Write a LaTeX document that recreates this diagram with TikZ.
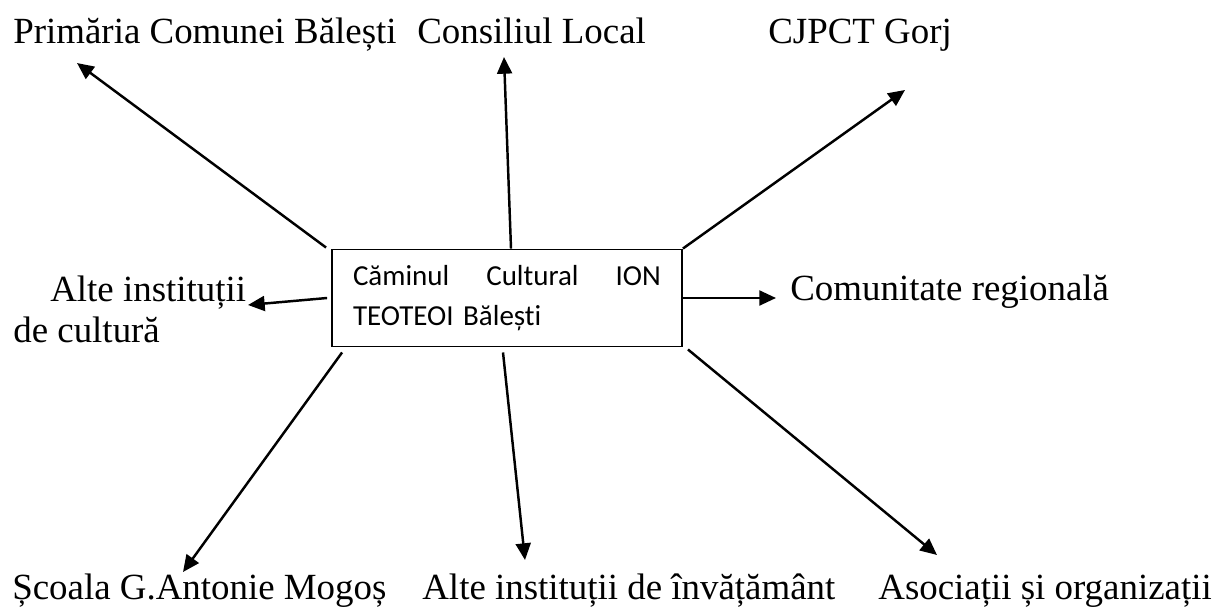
\documentclass[tikz,border=0pt]{standalone}
\usepackage{fontspec}
\setmainfont{Liberation Serif}
\newfontfamily\boxfont[Ligatures=NoCommon]{Carlito}
\usetikzlibrary{arrows.meta}
\tikzset{
  lbl/.style={anchor=base west,inner sep=0pt,font=\fontsize{21}{22.8}\selectfont},
  centre/.style={draw,line width=1.1pt,minimum width=7cm,minimum height=1.94cm,
    text width=6.16cm,align=left,inner sep=0pt,
    font=\boxfont\fontsize{16.5}{22.8}\selectfont},
  link/.style={line width=1.4pt,-{Triangle[length=9.5pt,width=8.5pt]}}
}
\begin{document}
\begin{tikzpicture}[x=0.02cm,y=-0.02cm]
      \useasboundingbox (0,0) rectangle (1222,612);
      \node[centre] (box) at (507,298)
        {\hbox to 6.16cm{Căminul\hfill Cultural\hfill ION}\\TEOTEOI Bălești};
      \draw
        (13,43) node[lbl] (prim){Primăria Comunei Bălești}
        (417,43) node[lbl] (cons){Consiliul Local}
        (768,43) node[lbl] (cjpct){CJPCT Gorj}
        (13,342) node[lbl,align=left] (cult){\hspace*{0.74cm}Alte instituții\\de cultură}
        (790,300) node[lbl] (comun){Comunitate regională}
        (12,599) node[lbl] (scoala){Școala G.Antonie Mogoș}
        (422,599) node[lbl] (invat){Alte instituții de învățământ}
        (878,599) node[lbl] (asoc){Asociații și organizații};
      \coordinate (tprim) at (77,63);
      \coordinate (tcons) at (504,57);
      \coordinate (tcjpct) at (905,90);
      \coordinate (tcult) at (248,305);
      \coordinate (tcomun) at (776,298);
      \coordinate (tscoala) at (183,572);
      \coordinate (tinvat) at (525,560);
      \coordinate (tasoc) at (937,555);
      \begin{scope}[link]
        \draw ([shift={(-5,-1)}]box.north west) to (tprim);
        \draw ([shift={(4,0)}]box.north) to (tcons);
        \draw (box.north east) to (tcjpct);
        \draw ([shift={(-4,0)}]box.west) to (tcult);
        \draw (box.east) to (tcomun);
        \draw ([shift={(11,5)}]box.south west) to (tscoala);
        \draw ([shift={(-4,5)}]box.south) to (tinvat);
        \draw ([shift={(5,2)}]box.south east) to (tasoc);
      \end{scope}
    \end{tikzpicture}
\end{document}
